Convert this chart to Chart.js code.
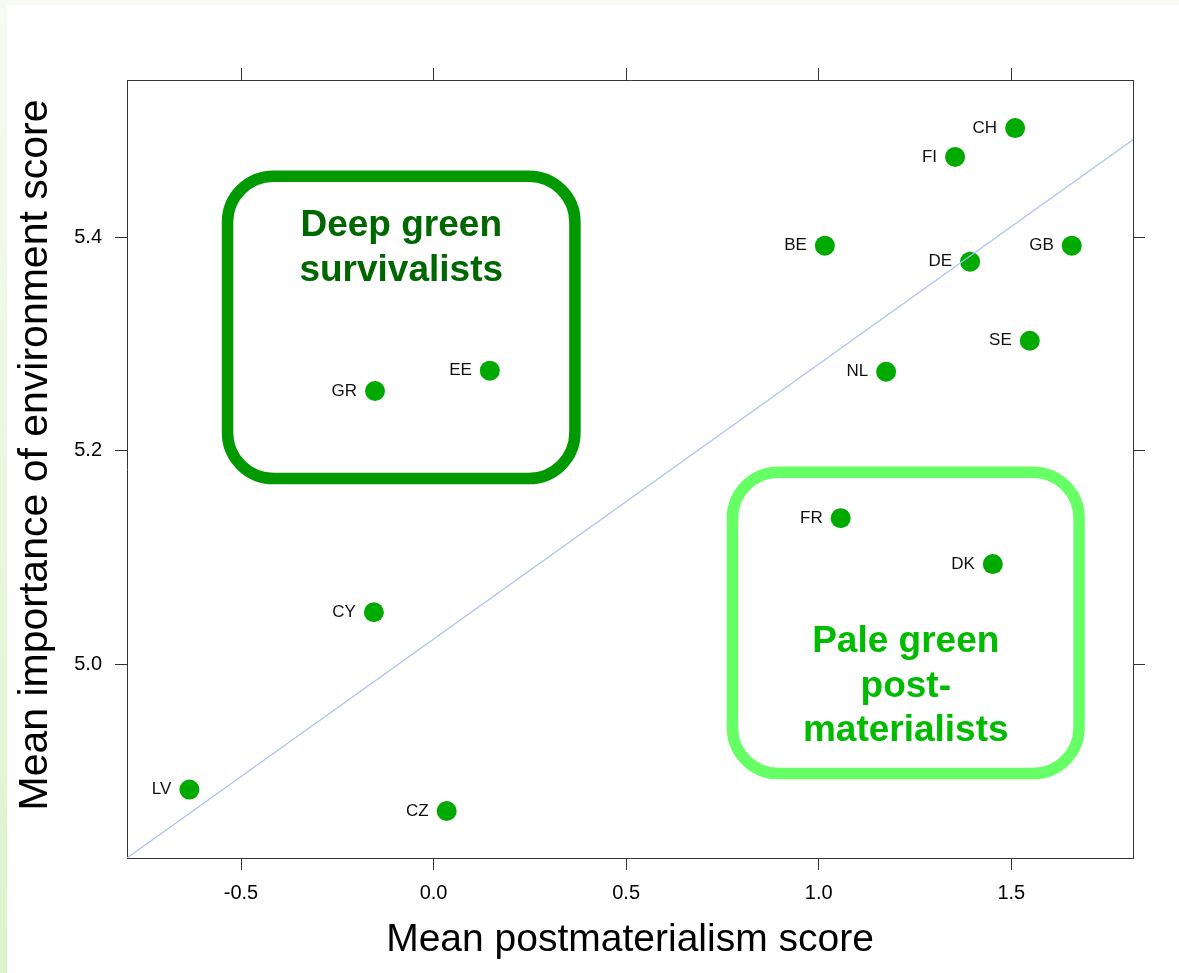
<!DOCTYPE html>
<html>
<head>
<meta charset="utf-8">
<title>Postmaterialism vs environment</title>
<script src="https://cdn.jsdelivr.net/npm/chart.js@4/dist/chart.umd.min.js"></script>
<style>
  html, body { margin: 0; padding: 0; }
  body {
    width: 1179px; height: 973px; overflow: hidden; position: relative;
    background: linear-gradient(to bottom, #f7fbf2, #dcf3cc);
  }
  #panel { position: absolute; left: 7px; top: 5px; right: 0; bottom: 0; background: #fff; }
  #chart { position: absolute; left: 0; top: 0; }
</style>
</head>
<body>
<div id="panel"></div>
<canvas id="chart" width="1179" height="973"></canvas>
<script>
const countries = ['CH', 'FI', 'BE', 'DE', 'GB', 'SE', 'NL', 'EE', 'GR', 'FR', 'DK', 'CY', 'LV', 'CZ'];
const postmat = [1.510, 1.354, 1.016, 1.393, 1.657, 1.548, 1.175, 0.146, -0.152, 1.057, 1.452, -0.155, -0.634, 0.034];
const envScore = [5.502, 5.475, 5.392, 5.377, 5.392, 5.303, 5.274, 5.275, 5.256, 5.137, 5.094, 5.049, 4.883, 4.863];

const xTicks = [-0.5, 0.0, 0.5, 1.0, 1.5];
const yTicks = [5.0, 5.2, 5.4];
const xRange = [-0.796, 1.816];
const yRange = [4.819, 5.547];

// fitted line at the panel edges
const fitX = [-0.796, 1.816];
const fitY = [4.819, 5.491];

// group boxes in data units
const deepBoxX = [-0.535, 0.367];
const deepBoxY = [5.174, 5.457];
const paleBoxX = [0.776, 1.676];
const paleBoxY = [4.898, 5.180];

const yTitle = 'Mean importance of environment score';

const FONT = "'Liberation Sans', Arial, sans-serif";
Chart.defaults.font.family = FONT;

const boxes = [
  { bx: deepBoxX, by: deepBoxY, stroke: '#009900', text: '#006600',
    lines: ['Deep green', 'survivalists'], first: 60 },
  { bx: paleBoxX, by: paleBoxY, stroke: '#66ff66', text: '#00bb00',
    lines: ['Pale green', 'post-', 'materialists'], first: 180 }
];

const boxPlugin = {
  id: 'groupBoxes',
  beforeDatasetsDraw(chart) {
    const { ctx, scales: { x, y } } = chart;
    ctx.save();
    boxes.forEach(b => {
      const l = x.getPixelForValue(b.bx[0]), r = x.getPixelForValue(b.bx[1]);
      const t = y.getPixelForValue(b.by[1]), btm = y.getPixelForValue(b.by[0]);
      ctx.beginPath();
      ctx.roundRect(l, t, r - l, btm - t, 46);
      ctx.lineWidth = 11.5;
      ctx.strokeStyle = b.stroke;
      ctx.stroke();
      ctx.fillStyle = b.text;
      ctx.font = `bold 37px ${FONT}`;
      ctx.textAlign = 'center';
      ctx.textBaseline = 'alphabetic';
      b.lines.forEach((s, i) => ctx.fillText(s, (l + r) / 2, t + b.first + i * 44.5));
    });
    ctx.restore();
  },
  afterDatasetsDraw(chart) {
    const { ctx, scales: { x, y } } = chart;
    ctx.save();
    ctx.font = `17px ${FONT}`;
    ctx.fillStyle = '#111';
    ctx.textAlign = 'right';
    ctx.textBaseline = 'middle';
    countries.forEach((c, i) => {
      ctx.fillText(c, x.getPixelForValue(postmat[i]) - 18, y.getPixelForValue(envScore[i]));
    });
    ctx.restore();
  },
  afterDraw(chart) {
    // y title sits a little above the panel centre in the original
    const { ctx, chartArea } = chart;
    ctx.save();
    ctx.translate(36, (chartArea.top + chartArea.bottom) / 2 - 14);
    ctx.rotate(-Math.PI / 2);
    ctx.font = `41px ${FONT}`;
    ctx.fillStyle = '#000';
    ctx.textAlign = 'center';
    ctx.textBaseline = 'middle';
    ctx.fillText(yTitle, 0, 0);
    ctx.restore();
  }
};

const axisGrid = { drawOnChartArea: false, tickLength: 12, tickColor: '#333', lineWidth: 1 };
const axisBorder = { color: '#333', width: 1 };
const setTicks = list => axis => { axis.ticks = list.map(v => ({ value: v })); };

new Chart(document.getElementById('chart'), {
  data: {
    datasets: [
      {
        type: 'line',
        data: fitX.map((v, i) => ({ x: v, y: fitY[i] })),
        borderColor: '#a9c1f4',
        borderWidth: 1.2,
        pointRadius: 0
      },
      {
        type: 'scatter',
        data: postmat.map((v, i) => ({ x: v, y: envScore[i] })),
        backgroundColor: '#00aa00',
        borderWidth: 0,
        pointRadius: 10,
        pointHoverRadius: 10
      }
    ]
  },
  options: {
    responsive: false,
    animation: false,
    devicePixelRatio: 1,
    layout: { padding: 0 },
    plugins: { legend: { display: false }, tooltip: { enabled: false } },
    scales: {
      x: {
        type: 'linear', position: 'bottom', min: xRange[0], max: xRange[1],
        afterBuildTicks: setTicks(xTicks),
        ticks: { callback: v => v.toFixed(1), font: { size: 20 }, color: '#000', padding: 11, maxRotation: 0 },
        grid: axisGrid, border: axisBorder,
        title: { display: true, text: 'Mean postmaterialism score', font: { size: 39 }, color: '#000',
                 padding: { top: 0, bottom: 9 } },
        afterFit: s => { s.height = 115; }
      },
      x2: {
        type: 'linear', position: 'top', min: xRange[0], max: xRange[1],
        afterBuildTicks: setTicks(xTicks),
        ticks: { display: false },
        grid: axisGrid, border: axisBorder,
        afterFit: s => { s.height = 80; }
      },
      y: {
        type: 'linear', position: 'left', min: yRange[0], max: yRange[1],
        afterBuildTicks: setTicks(yTicks),
        ticks: { callback: v => v.toFixed(1), font: { size: 20 }, color: '#000', padding: 13 },
        grid: axisGrid, border: axisBorder,
        afterFit: s => { s.width = 127; }
      },
      y2: {
        type: 'linear', position: 'right', min: yRange[0], max: yRange[1],
        afterBuildTicks: setTicks(yTicks),
        ticks: { display: false },
        grid: axisGrid, border: axisBorder,
        afterFit: s => { s.width = 46; }
      }
    }
  },
  plugins: [boxPlugin]
});
</script>
</body>
</html>
